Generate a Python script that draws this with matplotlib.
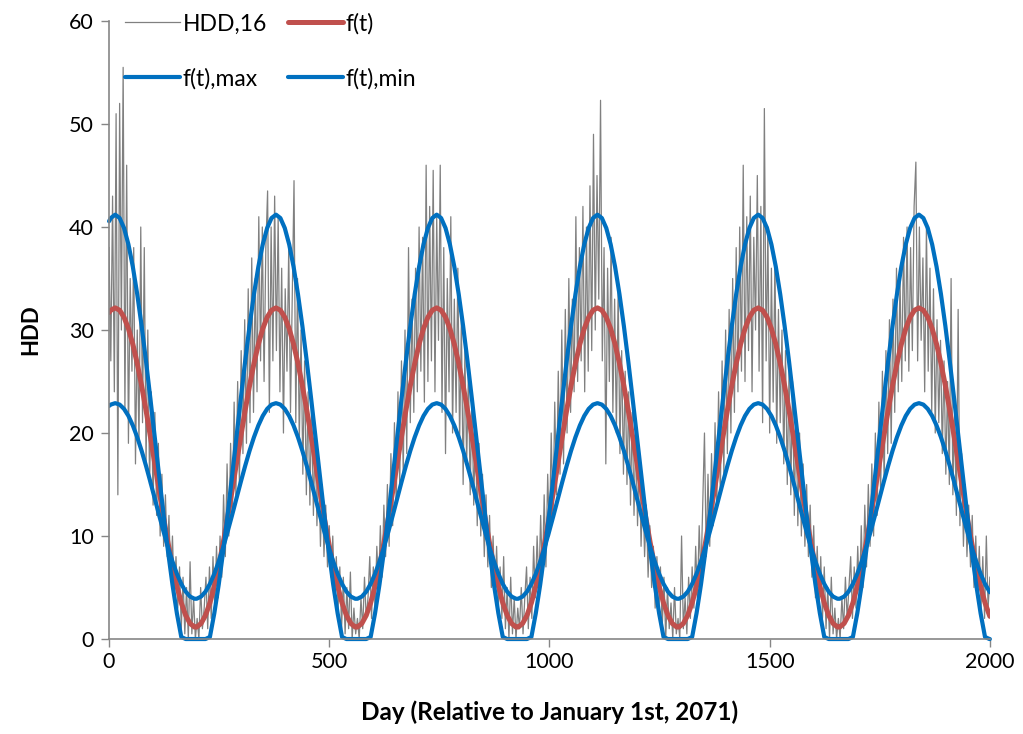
import numpy as np
import matplotlib
matplotlib.use("Agg")
import matplotlib.pyplot as plt

plt.rcParams['font.family'] = ['Lato', 'DejaVu Sans']

# ---------------- data ----------------
# daily HDD series, sampled every 4 days from day 0 to day 2000
hdd_values = [
    # cycle 0 (days 0-196)
    38, 27, 43, 24, 51, 14, 52, 30, 55.5, 22, 46, 19, 35, 26, 38, 17, 30, 19, 40, 21,
    38, 17, 30, 15, 24, 13, 22, 12, 19, 10, 16, 9, 14, 8, 12, 6, 10, 4, 8, 3,
    7, 1, 6, 0.5, 5, 0, 7.5, 0.5, 4, 0,
    # cycle 1 (days 200-560)
    2, 0, 5, 1, 3, 6, 1, 7, 2, 8, 3, 9, 4, 10, 6, 14, 8, 17, 10, 19,
    12, 23, 14, 25, 15, 28, 18, 31, 19, 34, 21, 37, 22, 35, 24, 41, 27, 40, 25, 38,
    43.5, 22, 40, 27, 43, 28, 41, 24, 36, 20, 34, 26, 38, 22, 33, 44.5, 21, 35, 19, 30,
    16, 27, 14, 24, 13, 23, 12, 20, 11, 17, 9, 15, 8, 13, 7, 11, 6, 10, 4, 8,
    3, 7, 1, 6, 0.5, 5, 1, 6.5, 0, 3, 0.5,
    # cycle 2 (days 564-924)
    2, 0, 4, 1, 6, 2, 4, 8, 2, 7, 3, 9, 5, 11, 6, 13, 8, 15, 9, 18,
    11, 21, 13, 24, 15, 27, 16, 30, 18, 38, 21, 33, 22, 36, 24, 40, 26, 39, 23, 46,
    25, 42, 27, 45.5, 24, 41, 29, 46, 22, 38, 18, 35, 24, 41, 20, 33, 22, 36, 19, 31,
    15, 28, 17, 26, 14, 24, 13, 21, 11, 19, 10, 16, 8, 14, 7, 12, 5, 10, 4, 9,
    3, 7, 2, 8, 1, 5, 0, 6, 0.5, 4, 0,
    # cycle 3 (days 928-1288)
    3, 1, 5, 0.5, 4, 7, 1, 6, 2, 9, 4, 10, 5, 12, 6, 14, 7, 16, 10, 20,
    12, 23, 14, 26, 16, 30, 17, 32, 20, 35, 22, 33, 24, 41, 25, 38, 27, 42, 24, 40,
    26, 44, 28, 49, 30, 45, 33, 52.3, 27, 38, 17, 36, 25, 39, 22, 33, 20, 34, 18, 28,
    16, 26, 15, 24, 13, 22, 12, 20, 11, 18, 9, 15, 8, 13, 6, 11, 5, 9, 3, 8,
    2, 7, 1, 6, 0, 5, 1, 3.5, 0, 5, 0.5,
    # cycle 4 (days 1292-1652)
    2, 0, 10, 1, 4, 0.5, 6, 2, 7, 3, 9, 4, 11, 6, 13, 20, 8, 16, 9, 18,
    11, 21, 13, 24, 14, 27, 16, 30, 18, 32, 20, 35, 22, 38, 24, 40, 26, 46, 25, 41,
    28, 43, 24, 39, 30, 45, 26, 42, 21, 51.5, 27, 40, 20, 36, 23, 37, 19, 32, 21, 30,
    17, 28, 15, 26, 14, 25, 12, 22, 11, 20, 10, 17, 9, 15, 8, 13, 6, 11, 4, 9,
    3, 8, 2, 7, 1, 5, 0, 6, 0.5, 3, 0,
    # cycle 5 (days 1656-2000)
    2, 0, 4, 1, 6, 2, 5, 8, 2, 7, 3, 9, 4, 11, 5, 13, 7, 15, 9, 17,
    10, 20, 12, 23, 14, 26, 15, 28, 18, 31, 19, 33, 22, 36, 24, 35, 25, 39, 27, 40,
    26, 38, 28, 42, 46.3, 27, 40, 29, 37, 24, 40, 26, 36, 22, 34, 20, 31, 21, 29, 18,
    27, 16, 25, 15, 35, 14, 22, 12, 32, 11, 18, 9, 15, 8, 13, 7, 12, 5, 10, 4,
    9, 3, 8, 2, 10, 3, 6,
]
hdd_days = np.arange(0, 2001, 4)

# smooth fitted curves: sample days and values
curve_days = (
    [0, 4, 14, 24, 34, 44, 54, 64, 74, 84, 94, 104, 114, 124, 134, 144, 154, 164, 174, 184, 194]
    + [199, 209, 219, 229, 239, 249, 259, 269, 279, 289, 299, 309, 319, 329, 339, 349, 359, 369, 379,
       389, 399, 409, 419, 429, 439, 449, 459, 469, 479, 489, 499, 509, 519, 529, 539, 549, 559]
    + [564, 574, 584, 594, 604, 614, 624, 634, 644, 654, 664, 674, 684, 694, 704, 714, 724, 734, 744,
       754, 764, 774, 784, 794, 804, 814, 824, 834, 844, 854, 864, 874, 884, 894, 904, 914, 924]
    + [929, 939, 949, 959, 969, 979, 989, 999, 1009, 1019, 1029, 1039, 1049, 1059, 1069, 1079, 1089, 1099, 1109,
       1119, 1129, 1139, 1149, 1159, 1169, 1179, 1189, 1199, 1209, 1219, 1229, 1239, 1249, 1259, 1269, 1279, 1289]
    + [1294, 1304, 1314, 1324, 1334, 1344, 1354, 1364, 1374, 1384, 1394, 1404, 1414, 1424, 1434, 1444, 1454, 1464, 1474,
       1484, 1494, 1504, 1514, 1524, 1534, 1544, 1554, 1564, 1574, 1584, 1594, 1604, 1614, 1624, 1634, 1644, 1654]
    + [1659, 1669, 1679, 1689, 1699, 1709, 1719, 1729, 1739, 1749, 1759, 1769, 1779, 1789, 1799, 1809, 1819, 1829, 1839,
       1849, 1859, 1869, 1879, 1889, 1899, 1909, 1919, 1929, 1939, 1949, 1959, 1969, 1979, 1989, 1999, 2000]
)

f_values = (
    [31.70, 31.92, 32.15, 31.92, 31.24, 30.13, 28.62, 26.75, 24.59, 22.19, 19.63, 16.98, 14.32, 11.73, 9.29, 7.06, 5.12, 3.51, 2.30, 1.51, 1.16]
    + [1.16, 1.51, 2.30, 3.51, 5.12, 7.06, 9.29, 11.73, 14.32, 16.98, 19.63, 22.19, 24.59, 26.75, 28.62, 30.13, 31.24, 31.92, 32.15,
       31.92, 31.24, 30.13, 28.62, 26.75, 24.59, 22.19, 19.63, 16.98, 14.32, 11.73, 9.29, 7.06, 5.12, 3.51, 2.30, 1.51, 1.16]
    + [1.16, 1.51, 2.30, 3.51, 5.12, 7.06, 9.29, 11.73, 14.32, 16.98, 19.63, 22.19, 24.59, 26.75, 28.62, 30.13, 31.24, 31.92, 32.15,
       31.92, 31.24, 30.13, 28.62, 26.75, 24.59, 22.19, 19.63, 16.98, 14.32, 11.73, 9.29, 7.06, 5.12, 3.51, 2.30, 1.51, 1.16]
    + [1.16, 1.51, 2.30, 3.51, 5.12, 7.06, 9.29, 11.73, 14.32, 16.98, 19.63, 22.19, 24.59, 26.75, 28.62, 30.13, 31.24, 31.92, 32.15,
       31.92, 31.24, 30.13, 28.62, 26.75, 24.59, 22.19, 19.63, 16.98, 14.32, 11.73, 9.29, 7.06, 5.12, 3.51, 2.30, 1.51, 1.16]
    + [1.16, 1.51, 2.30, 3.51, 5.12, 7.06, 9.29, 11.73, 14.32, 16.98, 19.63, 22.19, 24.59, 26.75, 28.62, 30.13, 31.24, 31.92, 32.15,
       31.92, 31.24, 30.13, 28.62, 26.75, 24.59, 22.19, 19.63, 16.98, 14.32, 11.73, 9.29, 7.06, 5.12, 3.51, 2.30, 1.51, 1.16]
    + [1.16, 1.51, 2.30, 3.51, 5.12, 7.06, 9.29, 11.73, 14.32, 16.98, 19.63, 22.19, 24.59, 26.75, 28.62, 30.13, 31.24, 31.92, 32.15,
       31.92, 31.24, 30.13, 28.62, 26.75, 24.59, 22.19, 19.63, 16.98, 14.32, 11.73, 9.29, 7.06, 5.12, 3.51, 2.30, 2.20]
)

fmax_values = (
    [40.56, 40.87, 41.20, 40.87, 39.90, 38.31, 36.14, 33.47, 30.38, 26.95, 23.28, 19.49, 15.68, 11.97, 8.47, 5.28, 2.50, 0.20, 0, 0, 0]
    + [0, 0, 0, 0.20, 2.50, 5.28, 8.47, 11.97, 15.68, 19.49, 23.28, 26.95, 30.38, 33.47, 36.14, 38.31, 39.90, 40.87, 41.20,
       40.87, 39.90, 38.31, 36.14, 33.47, 30.38, 26.95, 23.28, 19.49, 15.68, 11.97, 8.47, 5.28, 2.50, 0.20, 0, 0, 0]
    + [0, 0, 0, 0.20, 2.50, 5.28, 8.47, 11.97, 15.68, 19.49, 23.28, 26.95, 30.38, 33.47, 36.14, 38.31, 39.90, 40.87, 41.20,
       40.87, 39.90, 38.31, 36.14, 33.47, 30.38, 26.95, 23.28, 19.49, 15.68, 11.97, 8.47, 5.28, 2.50, 0.20, 0, 0, 0]
    + [0, 0, 0, 0.20, 2.50, 5.28, 8.47, 11.97, 15.68, 19.49, 23.28, 26.95, 30.38, 33.47, 36.14, 38.31, 39.90, 40.87, 41.20,
       40.87, 39.90, 38.31, 36.14, 33.47, 30.38, 26.95, 23.28, 19.49, 15.68, 11.97, 8.47, 5.28, 2.50, 0.20, 0, 0, 0]
    + [0, 0, 0, 0.20, 2.50, 5.28, 8.47, 11.97, 15.68, 19.49, 23.28, 26.95, 30.38, 33.47, 36.14, 38.31, 39.90, 40.87, 41.20,
       40.87, 39.90, 38.31, 36.14, 33.47, 30.38, 26.95, 23.28, 19.49, 15.68, 11.97, 8.47, 5.28, 2.50, 0.20, 0, 0, 0]
    + [0, 0, 0, 0.20, 2.50, 5.28, 8.47, 11.97, 15.68, 19.49, 23.28, 26.95, 30.38, 33.47, 36.14, 38.31, 39.90, 40.87, 41.20,
       40.87, 39.90, 38.31, 36.14, 33.47, 30.38, 26.95, 23.28, 19.49, 15.68, 11.97, 8.47, 5.28, 2.50, 0.20, 0, 0]
)

fmin_values = (
    [22.63, 22.76, 22.90, 22.76, 22.34, 21.66, 20.73, 19.59, 18.27, 16.80, 15.23, 13.60, 11.97, 10.39, 8.89, 7.52, 6.33, 5.35, 4.60, 4.12, 3.91]
    + [3.91, 4.12, 4.60, 5.35, 6.33, 7.52, 8.89, 10.39, 11.97, 13.60, 15.23, 16.80, 18.27, 19.59, 20.73, 21.66, 22.34, 22.76, 22.90,
       22.76, 22.34, 21.66, 20.73, 19.59, 18.27, 16.80, 15.23, 13.60, 11.97, 10.39, 8.89, 7.52, 6.33, 5.35, 4.60, 4.12, 3.91]
    + [3.91, 4.12, 4.60, 5.35, 6.33, 7.52, 8.89, 10.39, 11.97, 13.60, 15.23, 16.80, 18.27, 19.59, 20.73, 21.66, 22.34, 22.76, 22.90,
       22.76, 22.34, 21.66, 20.73, 19.59, 18.27, 16.80, 15.23, 13.60, 11.97, 10.39, 8.89, 7.52, 6.33, 5.35, 4.60, 4.12, 3.91]
    + [3.91, 4.12, 4.60, 5.35, 6.33, 7.52, 8.89, 10.39, 11.97, 13.60, 15.23, 16.80, 18.27, 19.59, 20.73, 21.66, 22.34, 22.76, 22.90,
       22.76, 22.34, 21.66, 20.73, 19.59, 18.27, 16.80, 15.23, 13.60, 11.97, 10.39, 8.89, 7.52, 6.33, 5.35, 4.60, 4.12, 3.91]
    + [3.91, 4.12, 4.60, 5.35, 6.33, 7.52, 8.89, 10.39, 11.97, 13.60, 15.23, 16.80, 18.27, 19.59, 20.73, 21.66, 22.34, 22.76, 22.90,
       22.76, 22.34, 21.66, 20.73, 19.59, 18.27, 16.80, 15.23, 13.60, 11.97, 10.39, 8.89, 7.52, 6.33, 5.35, 4.60, 4.12, 3.91]
    + [3.91, 4.12, 4.60, 5.35, 6.33, 7.52, 8.89, 10.39, 11.97, 13.60, 15.23, 16.80, 18.27, 19.59, 20.73, 21.66, 22.34, 22.76, 22.90,
       22.76, 22.34, 21.66, 20.73, 19.59, 18.27, 16.80, 15.23, 13.60, 11.97, 10.39, 8.89, 7.52, 6.33, 5.35, 4.60, 4.54]
)

series_labels = ["HDD,16", "f(t)", "f(t),max", "f(t),min"]
x_ticks = [0, 500, 1000, 1500, 2000]
y_ticks = [0, 10, 20, 30, 40, 50, 60]
x_label = "Day (Relative to January 1st, 2071)"
y_label = "HDD"

# ---------------- figure ----------------
fig = plt.figure(figsize=(10.23, 7.34), dpi=100)
ax = fig.add_axes([0.1066, 0.1294, 0.861, 0.842])

gray = "#808080"
red = "#C0504D"
blue = "#0070C0"
axis_gray = "#868686"

l_hdd, = ax.plot(hdd_days[:len(hdd_values)], hdd_values, color=gray, lw=0.9, label=series_labels[0])
l_f, = ax.plot(curve_days, f_values, color=red, lw=3.6, solid_capstyle="round", label=series_labels[1])
l_max, = ax.plot(curve_days, fmax_values, color=blue, lw=3.0, solid_capstyle="round",
                 solid_joinstyle="round", clip_on=False, label=series_labels[2])
l_min, = ax.plot(curve_days, fmin_values, color=blue, lw=3.0, solid_capstyle="round", label=series_labels[3])

ax.set_xlim(0, 2000)
ax.set_ylim(0, 60)
ax.set_xticks(x_ticks)
ax.set_yticks(y_ticks)
ax.tick_params(axis="both", direction="out", length=6, width=1, color=axis_gray,
               labelsize=15.5, labelcolor="black")
ax.tick_params(axis="x", pad=3.5)
ax.tick_params(axis="y", pad=5)
for side in ("top", "right"):
    ax.spines[side].set_visible(False)
for side in ("left", "bottom"):
    ax.spines[side].set_color(axis_gray)
    ax.spines[side].set_linewidth(1.2)

ax.set_xlabel(x_label, fontsize=17.5, fontweight="bold", labelpad=20)
ax.set_ylabel(y_label, fontsize=16, fontweight="bold", labelpad=20)

leg = ax.legend([l_hdd, l_max, l_f, l_min],
                [series_labels[0], series_labels[2], series_labels[1], series_labels[3]],
                ncol=2, loc="upper left", bbox_to_anchor=(0.113, 0.995),
                bbox_transform=fig.transFigure, frameon=False, fontsize=16.5,
                handlelength=2.4, handletextpad=0.12, columnspacing=0.9,
                labelspacing=1.45, borderaxespad=0.0)

fig.savefig("out.png", dpi=100, facecolor="white")
